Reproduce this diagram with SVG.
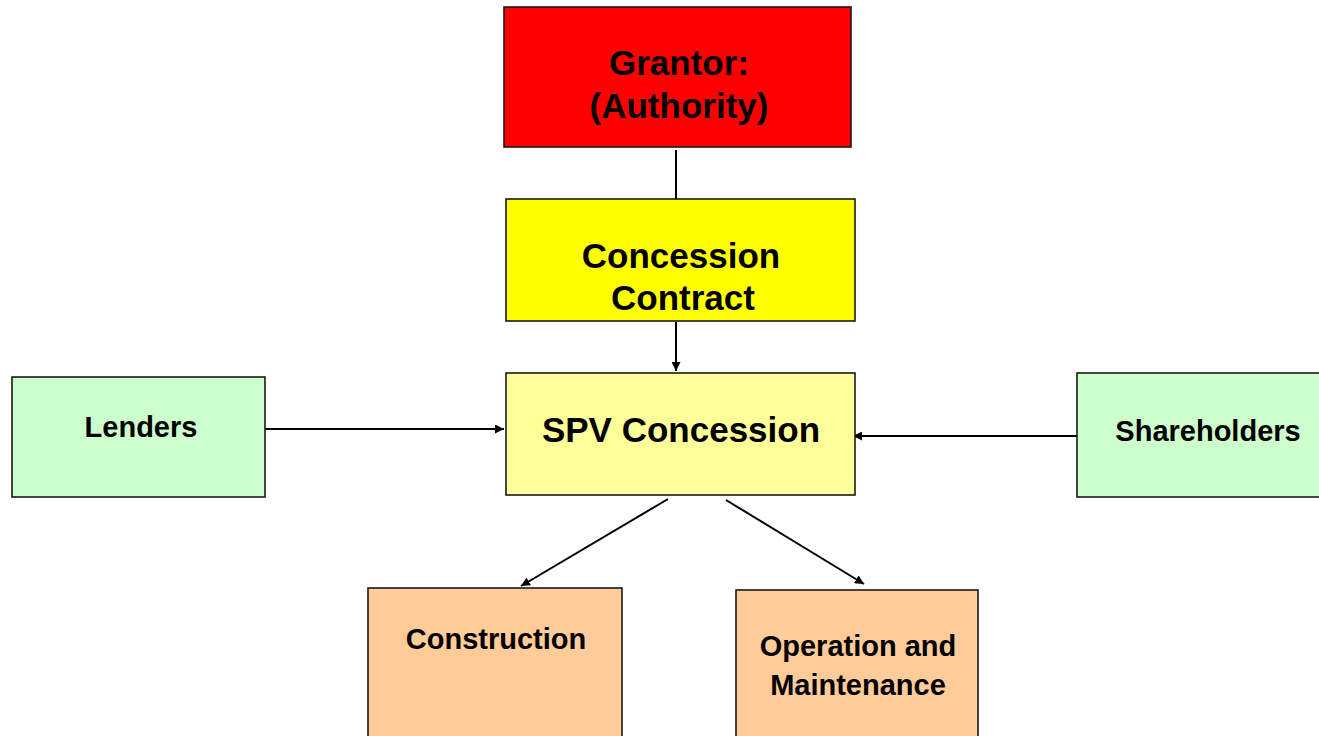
<svg xmlns="http://www.w3.org/2000/svg" width="1319" height="736" viewBox="0 0 1319 736">
<style>
.box{stroke:#1a1a1a;stroke-width:1.6}
.t{font-family:"Liberation Sans",Arial,sans-serif;font-weight:bold;fill:#000;text-anchor:middle}
.big{font-size:35px}
.sm{font-size:29px}
.c{stroke:#000;stroke-width:2;fill:none}
</style>
<defs>
<marker id="ah2" viewBox="0 0 10 10" refX="10" refY="5" markerWidth="9" markerHeight="9" orient="auto" markerUnits="userSpaceOnUse">
<path d="M0,0 L10,5 L0,10 Z" fill="#000"/>
</marker>
</defs>
<rect width="1319" height="736" fill="#fff"/>
<g id="connectors">
<line class="c" x1="676" y1="150" x2="676" y2="199"/>
<line class="c" x1="676" y1="322" x2="676" y2="371" marker-end="url(#ah2)"/>
<line class="c" x1="262" y1="429" x2="504" y2="429" marker-end="url(#ah2)"/>
<line class="c" x1="1077" y1="436" x2="853" y2="436" marker-end="url(#ah2)"/>
<line class="c" x1="668" y1="499" x2="521" y2="586" marker-end="url(#ah2)"/>
<line class="c" x1="726" y1="500" x2="864" y2="584" marker-end="url(#ah2)"/>
</g>
<g id="grantor">
<rect class="box" x="504" y="7" width="347" height="140" fill="#ff0000"/>
<text class="t big" x="679" y="75">Grantor:</text>
<text class="t big" x="679" y="118">(Authority)</text>
</g>
<g id="concession-contract">
<rect class="box" x="506" y="199" width="349" height="122" fill="#ffff00"/>
<text class="t big" x="681" y="268">Concession</text>
<text class="t big" x="683" y="310">Contract</text>
</g>
<g id="spv">
<rect class="box" x="506" y="373" width="349" height="122" fill="#ffff99"/>
<text class="t big" x="681" y="442">SPV Concession</text>
</g>
<g id="lenders">
<rect class="box" x="12" y="377" width="253" height="120" fill="#ccffcc"/>
<text class="t sm" x="141" y="437">Lenders</text>
</g>
<g id="shareholders">
<rect class="box" x="1077" y="373" width="250" height="124" fill="#ccffcc"/>
<text class="t sm" x="1208" y="441">Shareholders</text>
</g>
<g id="construction">
<rect class="box" x="368" y="588" width="254" height="160" fill="#ffcc99"/>
<text class="t sm" x="496" y="649">Construction</text>
</g>
<g id="operation-maintenance">
<rect class="box" x="736" y="590" width="242" height="160" fill="#ffcc99"/>
<text class="t sm" x="858" y="656">Operation and</text>
<text class="t sm" x="858" y="695">Maintenance</text>
</g>
</svg>
